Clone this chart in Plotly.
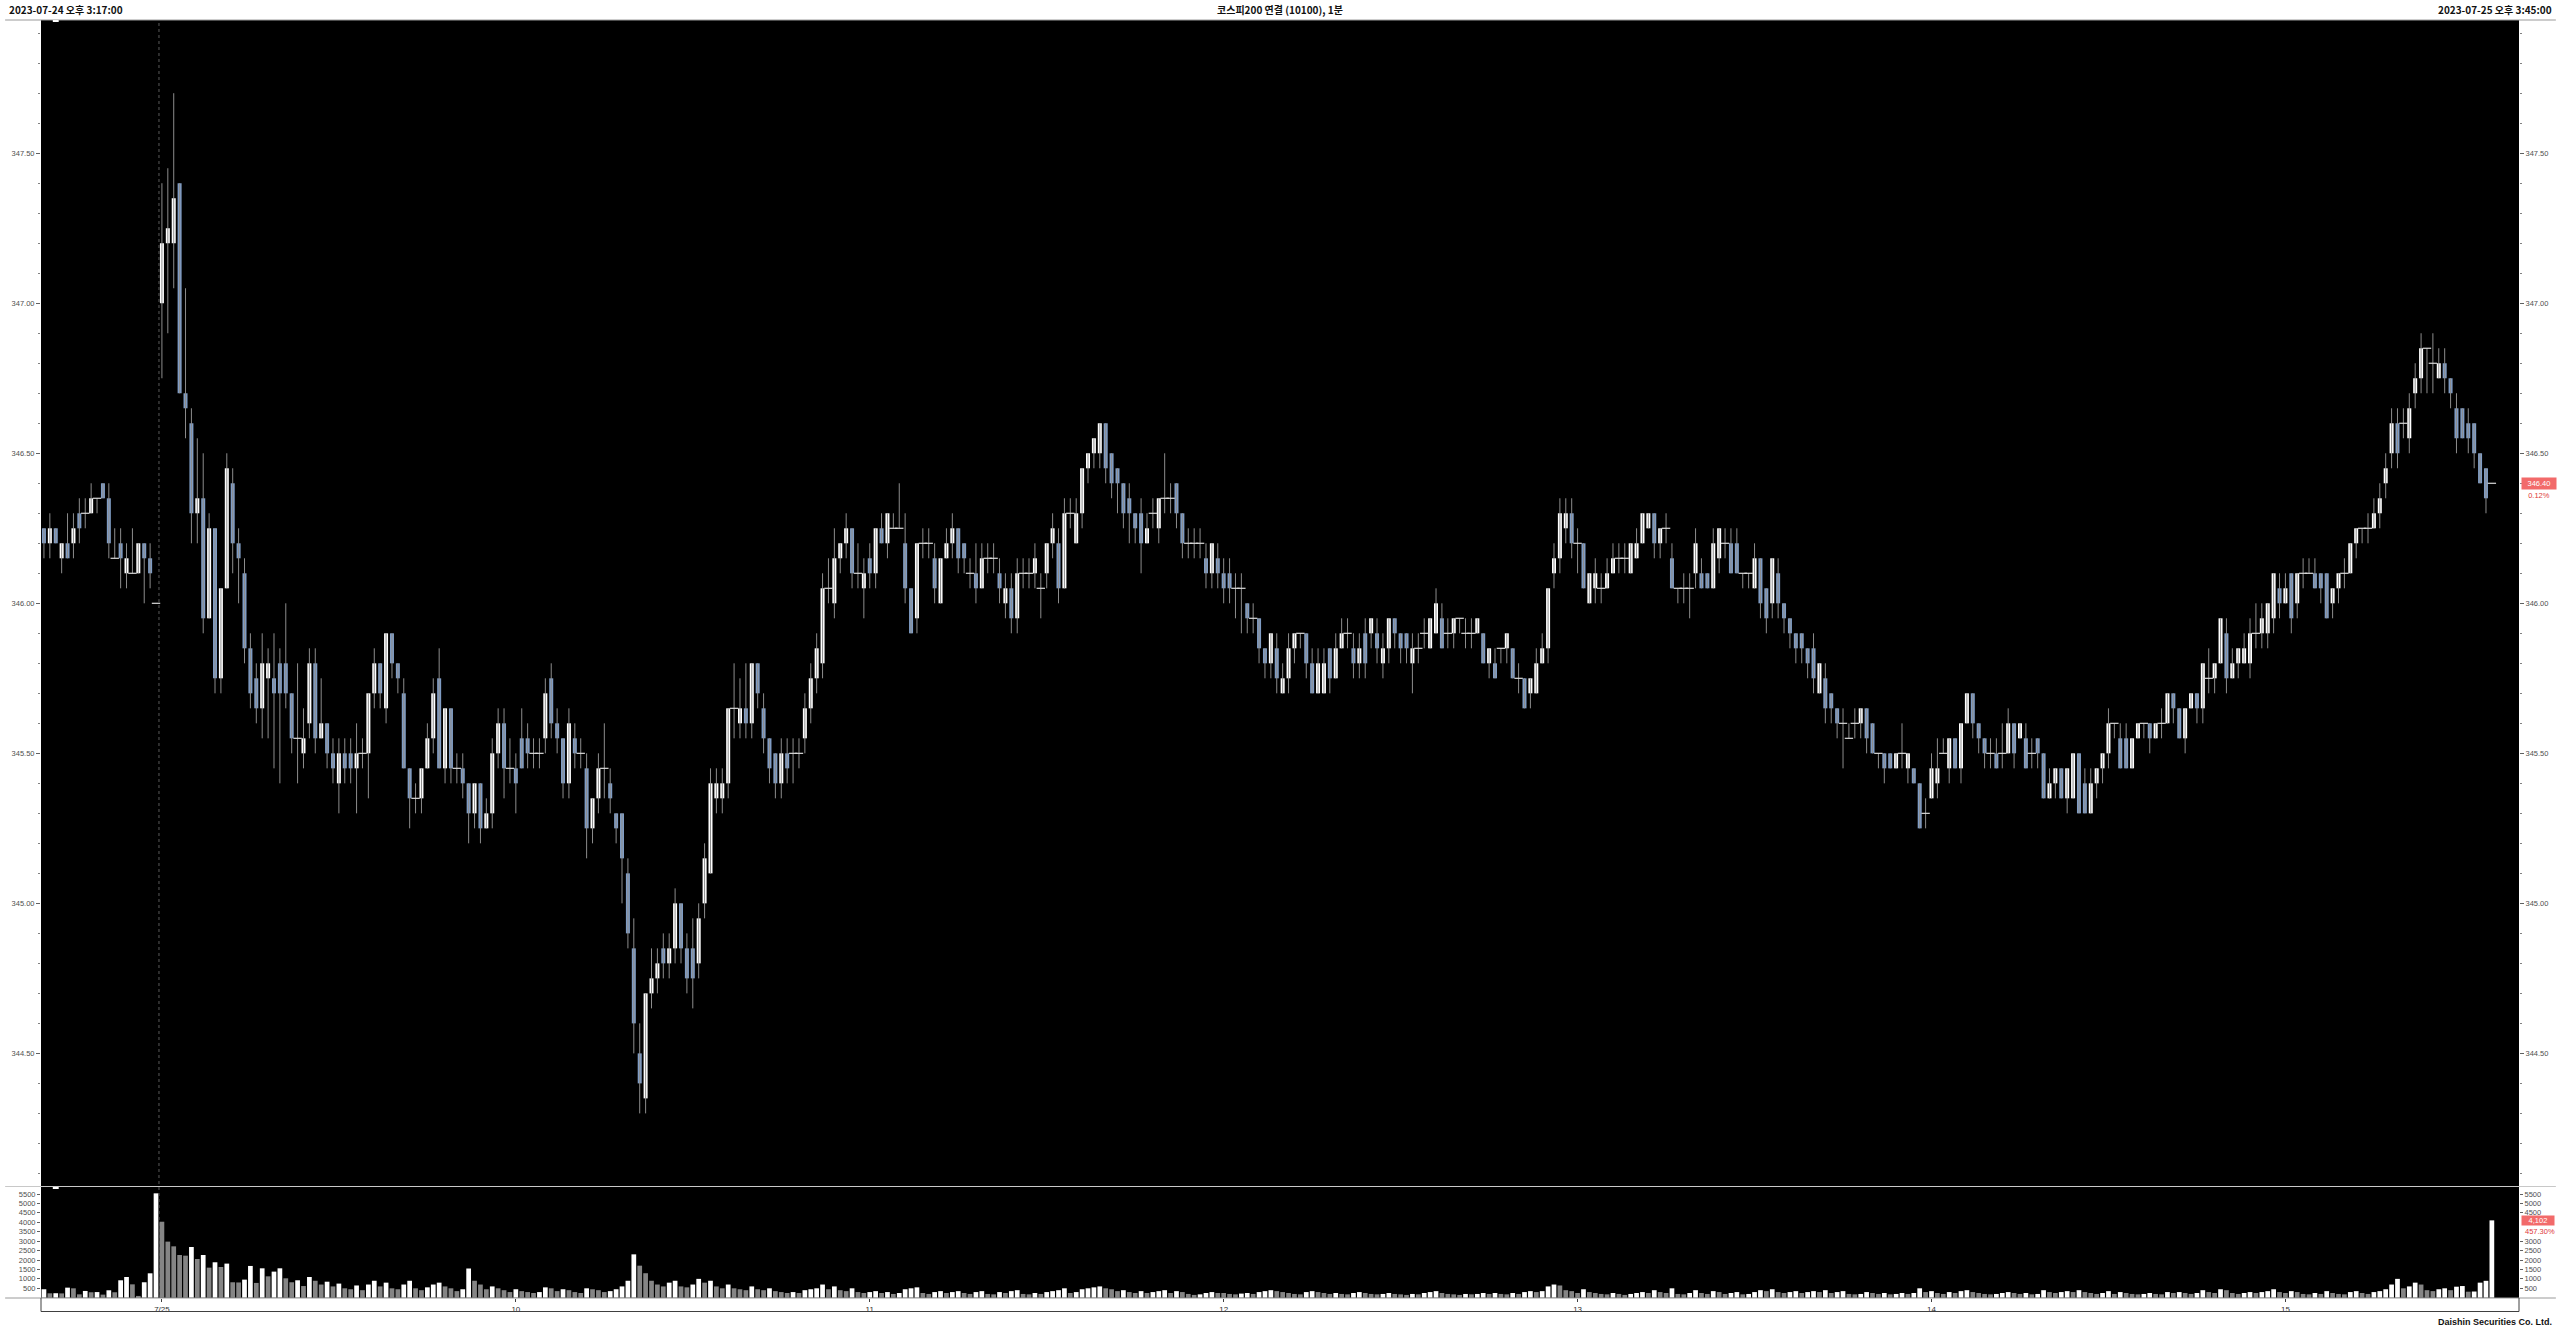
import plotly.graph_objects as go
import pandas as pd

# ---------------- data ----------------
opens = [
346.25,346.20,346.25,346.15,346.20,346.20,346.30,346.30,346.30,346.35,
346.40,346.35,346.15,346.20,346.10,346.10,346.10,346.20,346.15,346.00,
347.00,347.20,347.20,347.40,346.70,346.60,346.30,346.35,345.95,346.25,
345.75,346.05,346.40,346.20,346.10,345.85,345.75,345.65,345.75,345.75,
345.80,345.80,345.70,345.55,345.50,345.60,345.80,345.55,345.60,345.50,
345.40,345.50,345.50,345.45,345.50,345.50,345.70,345.80,345.65,345.90,
345.80,345.70,345.45,345.35,345.35,345.45,345.55,345.75,345.45,345.65,
345.45,345.45,345.40,345.30,345.40,345.25,345.30,345.50,345.60,345.45,
345.45,345.55,345.55,345.50,345.50,345.55,345.75,345.60,345.55,345.40,
345.55,345.50,345.45,345.25,345.35,345.45,345.40,345.30,345.30,345.10,
344.85,344.50,344.35,344.70,344.75,344.85,344.80,344.85,345.00,344.85,
344.85,344.80,345.00,345.10,345.35,345.35,345.40,345.65,345.60,345.65,
345.60,345.80,345.65,345.55,345.50,345.40,345.50,345.50,345.50,345.55,
345.65,345.75,345.80,346.05,346.00,346.15,346.20,346.25,346.10,346.05,
346.15,346.10,346.25,346.20,346.25,346.25,346.20,346.05,345.95,346.20,
346.20,346.15,346.00,346.15,346.20,346.25,346.20,346.10,346.10,346.05,
346.15,346.15,346.10,346.00,346.05,345.95,346.10,346.10,346.10,346.05,
346.10,346.20,346.20,346.05,346.30,346.20,346.30,346.45,346.50,346.50,
346.60,346.50,346.45,346.40,346.35,346.30,346.30,346.20,346.30,346.25,
346.35,346.35,346.40,346.30,346.20,346.20,346.20,346.15,346.10,346.15,
346.10,346.10,346.05,346.05,346.00,345.95,345.95,345.85,345.80,345.85,
345.70,345.75,345.85,345.90,345.90,345.80,345.70,345.70,345.85,345.75,
345.85,345.90,345.85,345.80,345.90,345.90,345.90,345.80,345.85,345.95,
345.90,345.90,345.80,345.85,345.90,345.85,345.90,345.95,345.90,345.90,
345.95,345.90,345.90,345.90,345.90,345.80,345.80,345.85,345.85,345.85,
345.75,345.75,345.70,345.70,345.80,345.85,346.10,346.15,346.25,346.30,
346.20,346.20,346.00,346.05,346.05,346.05,346.10,346.15,346.15,346.10,
346.15,346.20,346.25,346.30,346.20,346.25,346.15,346.05,346.05,346.05,
346.10,346.10,346.10,346.05,346.15,346.20,346.20,346.20,346.10,346.10,
346.05,346.15,346.05,346.00,346.10,346.00,345.95,345.90,345.90,345.85,
345.85,345.70,345.75,345.70,345.65,345.60,345.55,345.60,345.60,345.65,
345.60,345.50,345.50,345.50,345.45,345.50,345.45,345.45,345.40,345.30,
345.35,345.40,345.50,345.45,345.55,345.45,345.60,345.70,345.60,345.55,
345.50,345.50,345.50,345.50,345.60,345.55,345.55,345.50,345.55,345.50,
345.35,345.40,345.45,345.35,345.35,345.50,345.40,345.30,345.40,345.45,
345.50,345.60,345.55,345.55,345.45,345.55,345.60,345.60,345.55,345.60,
345.60,345.70,345.65,345.55,345.65,345.70,345.65,345.75,345.75,345.80,
345.90,345.75,345.80,345.80,345.80,345.90,345.90,345.90,345.95,346.05,
346.00,346.10,346.00,346.10,346.10,346.10,346.10,346.10,346.00,346.05,
346.10,346.10,346.20,346.25,346.25,346.25,346.30,346.40,346.50,346.60,
346.60,346.55,346.70,346.75,346.85,346.80,346.75,346.80,346.75,346.65,
346.65,346.60,346.60,346.50,346.45,346.40]

highs = [
346.25,346.30,346.25,346.20,346.30,346.30,346.35,346.35,346.40,346.35,
346.40,346.40,346.25,346.25,346.20,346.25,346.20,346.20,346.20,346.00,
347.40,347.45,347.70,347.40,347.05,346.65,346.55,346.50,346.30,346.25,
346.05,346.50,346.45,346.25,346.15,345.90,345.80,345.90,345.85,345.90,
345.85,346.00,345.70,345.80,345.65,345.85,345.85,345.75,345.60,345.55,
345.55,345.55,345.55,345.60,345.55,345.70,345.85,345.80,345.90,345.90,
345.80,345.75,345.45,345.40,345.45,345.60,345.75,345.85,345.65,345.65,
345.50,345.50,345.40,345.40,345.40,345.35,345.55,345.65,345.65,345.55,
345.50,345.65,345.60,345.55,345.55,345.75,345.80,345.65,345.55,345.65,
345.60,345.55,345.50,345.35,345.50,345.60,345.45,345.30,345.30,345.15,
344.95,344.60,344.70,344.85,344.85,344.90,344.90,345.05,345.00,344.90,
344.95,345.00,345.20,345.45,345.45,345.45,345.65,345.80,345.75,345.80,
345.80,345.80,345.70,345.55,345.50,345.55,345.55,345.55,345.55,345.70,
345.80,345.90,346.10,346.15,346.25,346.20,346.30,346.25,346.20,346.15,
346.20,346.25,346.30,346.30,346.30,346.40,346.30,346.05,346.20,346.25,
346.25,346.20,346.15,346.25,346.30,346.25,346.20,346.15,346.20,346.20,
346.20,346.20,346.15,346.10,346.10,346.15,346.15,346.15,346.20,346.10,
346.20,346.30,346.25,346.35,346.35,346.35,346.45,346.50,346.55,346.60,
346.60,346.50,346.45,346.40,346.40,346.30,346.35,346.30,346.35,346.35,
346.50,346.40,346.40,346.30,346.25,346.25,346.25,346.20,346.20,346.20,
346.15,346.15,346.10,346.10,346.00,346.00,345.95,345.85,345.90,345.90,
345.80,345.90,345.90,345.90,345.90,345.85,345.85,345.85,345.85,345.90,
345.95,345.95,345.90,345.90,345.95,345.95,345.95,345.90,345.95,345.95,
345.90,345.90,345.90,345.90,345.95,345.95,346.05,346.00,345.95,345.95,
345.95,345.95,345.95,345.95,345.90,345.85,345.85,345.85,345.90,345.85,
345.80,345.75,345.75,345.85,345.90,346.05,346.20,346.35,346.35,346.35,
346.25,346.20,346.10,346.15,346.10,346.15,346.20,346.20,346.20,346.20,
346.25,346.30,346.30,346.30,346.25,346.30,346.20,346.05,346.10,346.10,
346.25,346.15,346.10,346.25,346.25,346.25,346.25,346.25,346.10,346.10,
346.20,346.15,346.05,346.15,346.15,346.00,345.95,345.90,345.90,345.85,
345.90,345.80,345.80,345.70,345.65,345.65,345.60,345.65,345.65,345.65,
345.60,345.50,345.50,345.50,345.50,345.60,345.50,345.45,345.40,345.35,
345.50,345.55,345.55,345.55,345.55,345.60,345.70,345.70,345.60,345.55,
345.55,345.55,345.60,345.65,345.60,345.60,345.60,345.55,345.55,345.50,
345.45,345.45,345.45,345.45,345.50,345.50,345.45,345.45,345.45,345.50,
345.65,345.60,345.60,345.60,345.55,345.60,345.60,345.60,345.60,345.65,
345.70,345.70,345.65,345.65,345.70,345.70,345.80,345.85,345.80,345.95,
345.95,345.85,345.85,345.90,345.95,346.00,346.00,346.00,346.10,346.10,
346.10,346.10,346.10,346.15,346.15,346.15,346.10,346.10,346.05,346.10,
346.15,346.20,346.25,346.25,346.30,346.35,346.40,346.50,346.65,346.65,
346.65,346.70,346.80,346.90,346.85,346.90,346.85,346.85,346.75,346.70,
346.65,346.65,346.60,346.50,346.45,346.40]

lows = [
346.15,346.15,346.20,346.10,346.15,346.15,346.20,346.25,346.30,346.30,
346.35,346.15,346.15,346.05,346.05,346.10,346.10,346.00,346.05,346.00,
346.75,346.90,347.05,346.70,346.55,346.20,346.20,345.90,345.95,345.70,
345.70,346.05,346.10,346.00,345.80,345.65,345.60,345.55,345.55,345.45,
345.40,345.65,345.50,345.40,345.45,345.55,345.50,345.55,345.45,345.40,
345.30,345.40,345.40,345.30,345.45,345.35,345.65,345.65,345.60,345.75,
345.70,345.45,345.25,345.30,345.30,345.45,345.50,345.45,345.40,345.40,
345.40,345.35,345.20,345.25,345.20,345.25,345.25,345.45,345.35,345.40,
345.30,345.45,345.45,345.45,345.45,345.50,345.55,345.50,345.35,345.35,
345.45,345.45,345.15,345.20,345.30,345.35,345.30,345.20,345.00,344.85,
344.50,344.30,344.30,344.65,344.70,344.75,344.75,344.80,344.80,344.70,
344.65,344.75,344.95,345.10,345.30,345.30,345.35,345.55,345.55,345.55,
345.55,345.65,345.50,345.40,345.35,345.35,345.40,345.40,345.45,345.50,
345.60,345.70,345.75,346.00,345.95,346.10,346.15,346.05,346.05,345.95,
346.05,346.05,346.20,346.15,346.25,346.25,346.00,345.90,345.90,346.15,
346.15,346.00,346.00,346.15,346.15,346.10,346.10,346.05,346.00,346.05,
346.10,346.10,346.00,345.95,345.90,345.90,346.05,346.05,346.05,345.95,
346.05,346.15,346.00,346.05,346.25,346.20,346.25,346.40,346.45,346.45,
346.40,346.35,346.30,346.25,346.20,346.20,346.10,346.20,346.25,346.20,
346.30,346.30,346.25,346.15,346.15,346.15,346.15,346.05,346.05,346.05,
346.00,346.00,345.95,345.90,345.90,345.90,345.80,345.75,345.75,345.70,
345.70,345.70,345.80,345.85,345.75,345.70,345.70,345.70,345.70,345.75,
345.85,345.85,345.75,345.75,345.75,345.85,345.80,345.75,345.80,345.85,
345.80,345.80,345.70,345.80,345.85,345.85,345.90,345.85,345.85,345.85,
345.90,345.85,345.85,345.90,345.80,345.75,345.75,345.80,345.80,345.75,
345.70,345.65,345.65,345.70,345.80,345.80,346.05,346.10,346.20,346.15,
346.10,346.05,346.00,346.00,346.00,346.05,346.10,346.10,346.10,346.10,
346.15,346.20,346.25,346.15,346.15,346.20,346.05,346.00,346.00,345.95,
346.05,346.05,346.05,346.05,346.10,346.15,346.10,346.10,346.05,346.05,
346.05,345.95,345.90,345.95,345.95,345.90,345.85,345.80,345.80,345.75,
345.70,345.70,345.60,345.60,345.55,345.45,345.55,345.55,345.55,345.50,
345.50,345.45,345.40,345.45,345.45,345.45,345.40,345.40,345.25,345.25,
345.35,345.35,345.50,345.40,345.45,345.40,345.60,345.55,345.50,345.45,
345.45,345.45,345.45,345.50,345.45,345.55,345.45,345.45,345.45,345.35,
345.35,345.35,345.35,345.30,345.35,345.30,345.30,345.30,345.35,345.40,
345.45,345.55,345.45,345.45,345.45,345.55,345.55,345.50,345.55,345.55,
345.60,345.60,345.55,345.50,345.65,345.60,345.60,345.70,345.70,345.80,
345.70,345.75,345.75,345.80,345.75,345.85,345.85,345.85,345.90,345.95,
346.00,345.90,345.95,346.05,346.10,346.05,346.00,345.95,345.95,346.00,
346.05,346.10,346.15,346.20,346.20,346.25,346.25,346.35,346.45,346.45,
346.55,346.50,346.65,346.70,346.70,346.70,346.75,346.70,346.65,346.50,
346.55,346.50,346.45,346.40,346.30,346.40]

closes = [
346.20,346.25,346.20,346.20,346.15,346.25,346.25,346.30,346.35,346.35,
346.35,346.20,346.15,346.15,346.15,346.10,346.20,346.15,346.10,346.00,
347.20,347.25,347.35,346.70,346.65,346.30,346.35,345.95,346.25,345.75,
346.05,346.45,346.20,346.15,345.85,345.70,345.65,345.80,345.80,345.70,
345.70,345.70,345.55,345.55,345.55,345.80,345.55,345.60,345.50,345.45,
345.50,345.45,345.45,345.50,345.50,345.70,345.80,345.70,345.90,345.80,
345.75,345.45,345.35,345.35,345.45,345.55,345.70,345.45,345.65,345.45,
345.45,345.40,345.30,345.40,345.25,345.30,345.50,345.60,345.45,345.45,
345.40,345.45,345.50,345.50,345.50,345.70,345.60,345.55,345.40,345.60,
345.50,345.50,345.25,345.35,345.45,345.45,345.35,345.25,345.15,344.90,
344.60,344.40,344.70,344.75,344.80,344.80,344.85,345.00,344.85,344.75,
344.75,344.95,345.15,345.40,345.40,345.40,345.65,345.65,345.65,345.60,
345.80,345.70,345.55,345.45,345.40,345.50,345.45,345.50,345.50,345.65,
345.75,345.85,346.05,346.05,346.15,346.20,346.25,346.10,346.10,346.10,
346.10,346.25,346.20,346.30,346.25,346.25,346.05,345.90,346.20,346.20,
346.20,346.05,346.15,346.20,346.25,346.15,346.15,346.10,346.05,346.15,
346.15,346.15,346.05,346.05,345.95,346.10,346.10,346.10,346.15,346.05,
346.20,346.25,346.05,346.30,346.30,346.30,346.45,346.50,346.55,346.60,
346.45,346.40,346.40,346.30,346.30,346.25,346.20,346.25,346.30,346.35,
346.35,346.35,346.30,346.20,346.20,346.20,346.20,346.10,346.20,346.10,
346.05,346.05,346.05,346.05,345.95,345.95,345.85,345.80,345.90,345.75,
345.75,345.85,345.90,345.90,345.80,345.70,345.80,345.80,345.75,345.85,
345.90,345.90,345.80,345.85,345.80,345.95,345.85,345.85,345.95,345.90,
345.85,345.85,345.85,345.85,345.90,345.95,346.00,345.85,345.90,345.95,
345.95,345.90,345.90,345.95,345.80,345.85,345.75,345.85,345.90,345.75,
345.75,345.65,345.75,345.80,345.85,346.05,346.15,346.30,346.30,346.20,
346.20,346.05,346.10,346.10,346.05,346.10,346.15,346.15,346.15,346.20,
346.20,346.30,346.30,346.20,346.25,346.25,346.05,346.05,346.05,346.05,
346.20,346.05,346.05,346.20,346.25,346.20,346.10,346.10,346.10,346.10,
346.15,346.00,345.95,346.15,346.00,345.95,345.90,345.85,345.85,345.80,
345.75,345.80,345.65,345.65,345.60,345.60,345.55,345.60,345.65,345.55,
345.50,345.50,345.45,345.45,345.50,345.50,345.50,345.40,345.25,345.30,
345.45,345.45,345.50,345.55,345.45,345.60,345.70,345.60,345.55,345.50,
345.50,345.45,345.50,345.60,345.50,345.60,345.45,345.50,345.50,345.35,
345.40,345.45,345.35,345.45,345.50,345.30,345.30,345.40,345.45,345.50,
345.60,345.60,345.45,345.45,345.55,345.60,345.60,345.55,345.60,345.60,
345.70,345.65,345.55,345.65,345.70,345.65,345.80,345.75,345.80,345.95,
345.75,345.80,345.85,345.85,345.90,345.90,345.95,346.00,346.10,346.00,
346.05,345.95,346.10,346.10,346.10,346.05,346.05,345.95,346.05,346.10,
346.10,346.20,346.25,346.25,346.25,346.30,346.35,346.45,346.60,346.50,
346.60,346.65,346.75,346.85,346.85,346.80,346.80,346.75,346.70,346.55,
346.55,346.55,346.50,346.40,346.35,346.40]

volumes = [
450,235,240,230,535,500,180,360,290,300,165,395,290,925,1100,710,95,820,1295,5535,
4030,2975,2725,2265,2230,2690,2055,2265,1595,1880,1630,1810,820,810,960,1685,785,1560,1135,1385,
1560,1030,820,925,620,1100,900,700,850,600,750,500,450,650,400,700,900,600,800,500,
450,700,900,500,400,550,700,800,600,500,350,450,1550,900,700,450,600,500,400,300,
450,350,300,250,300,550,500,350,450,400,300,250,500,450,400,300,350,450,600,900,
2300,1700,1300,900,700,600,800,900,600,550,700,1000,800,900,600,500,700,500,450,400,
600,450,400,500,350,300,250,300,250,400,450,500,700,450,600,400,350,500,300,250,
300,350,250,300,200,250,450,500,550,250,200,300,350,250,300,350,250,200,300,350,
200,180,300,250,350,400,200,180,250,200,300,350,400,500,250,300,450,500,550,600,
500,450,350,400,300,250,350,250,300,350,400,250,350,300,200,150,180,250,300,250,
250,200,180,220,250,200,300,350,400,350,300,250,200,180,300,350,300,250,200,250,
200,180,250,300,250,200,180,200,250,200,180,150,200,180,250,300,350,250,200,180,
150,200,180,200,250,200,250,200,180,250,200,300,350,300,350,600,700,650,400,350,
250,450,300,250,200,180,250,200,150,200,250,300,250,400,300,250,500,200,180,250,
400,250,200,350,300,200,250,300,180,200,300,400,350,450,300,250,300,350,250,300,
350,300,400,250,300,350,200,180,200,300,250,200,250,180,200,250,200,250,500,300,
350,250,200,300,250,350,400,300,250,200,180,200,250,300,250,200,250,180,200,400,
300,250,300,350,300,400,300,250,200,250,350,200,300,250,200,180,200,250,200,180,
300,250,300,250,200,250,400,300,250,450,400,250,200,250,300,250,300,350,450,300,
250,350,300,200,180,250,200,350,250,200,180,300,350,250,200,300,350,450,700,1000,
500,600,800,700,400,350,450,500,400,585,620,320,330,800,897,4102]

# session timestamps (one candle per minute; closing auction printed at 15:45)
day1 = list(pd.date_range("2023-07-24 15:17", "2023-07-24 15:35", freq="min")) + [pd.Timestamp("2023-07-24 15:45")]
day2 = list(pd.date_range("2023-07-25 09:00", "2023-07-25 15:34", freq="min")) + [pd.Timestamp("2023-07-25 15:45")]
times = day1 + day2
n = len(times)
assert all(len(a) == n for a in (opens, highs, lows, closes, volumes)), [len(a) for a in (opens, highs, lows, closes, volumes)]

# ---------------- derived ----------------
tickvals, ticktext = [], []
day_break = None
for i in range(1, n):
    t, p = times[i], times[i - 1]
    if t.date() != p.date():
        tickvals.append(i); ticktext.append(f"{t.month}/{t.day}")
        day_break = i - 0.5
    elif t.hour != p.hour:
        tickvals.append(i); ticktext.append(str(t.hour))

up = [i for i in range(n) if closes[i] > opens[i]]
dn = [i for i in range(n) if closes[i] < opens[i]]
dj = [i for i in range(n) if closes[i] == opens[i]]

wx, wy = [], []
for i in range(n):
    if highs[i] > lows[i]:
        wx += [i, i, None]
        wy += [lows[i], highs[i], None]

vcol = ["#ffffff" if (i == 0 or volumes[i] > volumes[i - 1]) else "#858585" for i in range(n)]

prev_close = closes[len(day1) - 1]
chg_pct = (closes[-1] - prev_close) / prev_close * 100
vol_pct = volumes[-1] / volumes[-2] * 100

# ---------------- figure ----------------
W, H = 2560, 1328
ML, MR, MT, MB = 36, 37, 20, 30
PW, PH = W - ML - MR, H - MT - MB
UP_C, DN_C, WICK_C = "#ffffff", "#7f9cc4", "#8c8c8c"

fig = go.Figure()
fig.add_trace(go.Scatter(x=wx, y=wy, mode="lines", line=dict(color=WICK_C, width=1),
                         hoverinfo="skip", xaxis="x", yaxis="y"))
fig.add_trace(go.Bar(x=up, y=[closes[i] - opens[i] for i in up], base=[opens[i] for i in up],
                     width=0.68, marker=dict(color=UP_C, line=dict(width=0)),
                     hoverinfo="skip", xaxis="x", yaxis="y"))
fig.add_trace(go.Bar(x=dn, y=[opens[i] - closes[i] for i in dn], base=[closes[i] for i in dn],
                     width=0.68, marker=dict(color=DN_C, line=dict(width=0)),
                     hoverinfo="skip", xaxis="x", yaxis="y"))
fig.add_trace(go.Scatter(x=dj, y=[closes[i] for i in dj], mode="markers",
                         marker=dict(symbol="line-ew", size=6, line=dict(color="#dcdcdc", width=1.2)),
                         hoverinfo="skip", xaxis="x", yaxis="y"))
fig.add_trace(go.Scatter(x=[0], y=[closes[0]], mode="markers", opacity=0, hoverinfo="skip",
                         xaxis="x", yaxis="y3"))
fig.add_trace(go.Bar(x=list(range(n)), y=volumes, width=0.8,
                     marker=dict(color=vcol, line=dict(width=0)),
                     hoverinfo="skip", xaxis="x2", yaxis="y2"))
fig.add_trace(go.Scatter(x=[0], y=[volumes[0]], mode="markers", opacity=0, hoverinfo="skip",
                         xaxis="x2", yaxis="y4"))

tick_font = dict(family="Liberation Sans, Arial, sans-serif", size=7.5, color="#505050")
main_dom = [(PH - (1186 - MT)) / PH, 1.0]
vol_dom = [0.0, (PH - (1187 - MT)) / PH]
xr = [-0.5, 419.6]
yr = [344.058, 347.944]
vr = [-14, 5871]

price_axis = dict(range=yr, tickmode="linear", tick0=344.5, dtick=0.5, tickformat=".2f",
                  ticks="outside", ticklen=4, tickcolor="#606060", tickfont=tick_font,
                  showgrid=False, zeroline=False, showline=False, fixedrange=True,
                  minor=dict(tickmode="linear", tick0=344.5, dtick=0.1, ticks="outside",
                             ticklen=2, tickcolor="#808080", showgrid=False))
vol_common = dict(range=vr, tickformat="d", ticks="outside", ticklen=3, tickcolor="#606060",
                  tickfont=tick_font, showgrid=False, zeroline=False, showline=False, fixedrange=True)
vol_ticks = list(range(500, 6000, 500))
# right side: ticks hidden behind the last-volume marker are left out
vol_ticks_right = [v for v in vol_ticks if not (volumes[-1] - 850 < v < volumes[-1] + 300)]

fig.update_layout(
    width=W, height=H, autosize=False,
    margin=dict(l=ML, r=MR, t=MT, b=MB, pad=0),
    paper_bgcolor="white", plot_bgcolor="black",
    barmode="overlay", showlegend=False, hovermode=False,
    xaxis=dict(domain=[0, 1], anchor="y", range=xr, showticklabels=False, ticks="",
               showgrid=False, zeroline=False, showline=False, fixedrange=True),
    xaxis2=dict(domain=[0, 1], anchor="y2", range=xr, tickmode="array", tickvals=tickvals,
                ticktext=ticktext, ticks="outside", ticklen=3, tickcolor="#404040",
                tickfont=dict(family="Liberation Sans, Arial, sans-serif", size=8, color="#303030"),
                showgrid=False, zeroline=False, showline=False, fixedrange=True),
    yaxis=dict(domain=main_dom, anchor="x", side="left", **price_axis),
    yaxis3=dict(overlaying="y", anchor="x", side="right", **price_axis),
    yaxis2=dict(domain=vol_dom, anchor="x2", side="left", tickmode="array", tickvals=vol_ticks, **vol_common),
    yaxis4=dict(overlaying="y2", anchor="x2", side="right", tickmode="array", tickvals=vol_ticks_right, **vol_common),
)

def px_to_paper_y(py):
    return (H - MB - py) / PH

x_left = -ML / PW
x_right = 1 + MR / PW
shapes = []
for py, col in [(MT, "#9a9a9a"), (1186.5, "#c8c8c8"), (H - MB, "#9a9a9a")]:
    shapes.append(dict(type="line", xref="paper", yref="paper", x0=x_left, x1=x_right,
                       y0=px_to_paper_y(py), y1=px_to_paper_y(py), line=dict(color=col, width=1)))
yb = px_to_paper_y(1311.5)
shapes += [
    dict(type="line", xref="paper", yref="paper", x0=0, x1=0, y0=0, y1=yb, line=dict(color="#404040", width=1)),
    dict(type="line", xref="paper", yref="paper", x0=1, x1=1, y0=0, y1=yb, line=dict(color="#404040", width=1)),
    dict(type="line", xref="paper", yref="paper", x0=0, x1=1, y0=yb, y1=yb, line=dict(color="#404040", width=1)),
]
shapes.append(dict(type="line", xref="x", yref="paper", x0=day_break, x1=day_break, y0=0, y1=1,
                   line=dict(color="#5a5a5a", width=1, dash="dot")))
for ytop in (1.0, vol_dom[1]):
    shapes.append(dict(type="rect", xref="x", yref="paper", x0=1.5, x1=2.5,
                       y0=ytop - 2 / PH, y1=ytop, fillcolor="#ffffff", line=dict(width=0)))
fig.update_layout(shapes=shapes)

title_font = dict(family="Noto Sans CJK KR, sans-serif", size=10, color="#111111")
small = dict(family="Liberation Sans, Arial, sans-serif", size=7.5)
ann = [
    dict(text="<b>2023-07-24 오후 3:17:00</b>", xref="paper", yref="paper", x=0, y=1,
         xanchor="left", yanchor="middle", xshift=-34, yshift=11, showarrow=False, font=title_font),
    dict(text="<b>코스피200 연결 (10100), 1분</b>", xref="paper", yref="paper", x=0.5, y=1,
         xanchor="center", yanchor="middle", yshift=11, showarrow=False, font=title_font),
    dict(text="<b>2023-07-25 오후 3:45:00</b>", xref="paper", yref="paper", x=1, y=1,
         xanchor="right", yanchor="middle", xshift=35, yshift=11, showarrow=False, font=title_font),
    dict(text="<b>Daishin Securities Co. Ltd.</b>", xref="paper", yref="paper", x=1, y=0,
         xanchor="right", yanchor="middle", xshift=35, yshift=-24, showarrow=False,
         font=dict(family="Liberation Sans, Arial, sans-serif", size=9, color="#111111")),
    dict(text=f"{closes[-1]:.2f}", xref="paper", yref="y", x=1, y=closes[-1], xanchor="left",
         yanchor="middle", xshift=2, showarrow=False, bgcolor="#f26a6a", borderpad=1, width=32,
         font=dict(color="#ffffff", **small)),
    dict(text=f"{chg_pct:.2f}%", xref="paper", yref="y", x=1, y=closes[-1], xanchor="left",
         yanchor="middle", xshift=2, yshift=-12, showarrow=False, width=32,
         font=dict(color="#e03a3a", **small)),
    dict(text=f"{volumes[-1]:,}", xref="paper", yref="y2", x=1, y=volumes[-1], xanchor="left",
         yanchor="middle", xshift=2, showarrow=False, bgcolor="#f26a6a", borderpad=0, width=32,
         font=dict(color="#ffffff", **small)),
    dict(text=f"{vol_pct:.2f}%", xref="paper", yref="y2", x=1, y=volumes[-1], xanchor="left",
         yanchor="middle", xshift=2, yshift=-11, showarrow=False, width=34,
         font=dict(color="#e03a3a", **small)),
]
fig.update_layout(annotations=ann)

fig.write_html(
    "out.html",
    config={"displayModeBar": False, "staticPlot": False},
    post_script="document.body.style.margin='0';document.documentElement.style.overflow='hidden';",
)
